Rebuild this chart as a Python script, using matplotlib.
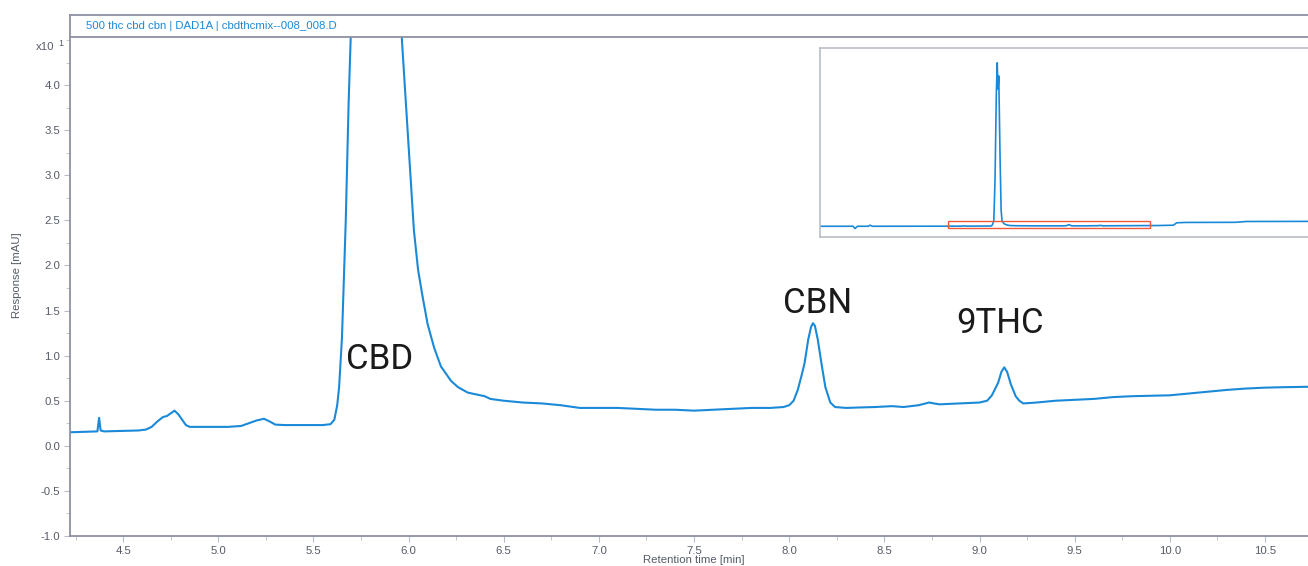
import matplotlib
matplotlib.use("Agg")
import matplotlib.pyplot as plt
from matplotlib.patches import Rectangle
from matplotlib.ticker import MultipleLocator, FixedLocator, FormatStrFormatter

plt.rcParams["font.family"] = ["Liberation Sans", "DejaVu Sans"]

# ---- data (response in x10 mAU) ----
rt_min = [
    0.0, 1.0, 1.15, 1.22, 1.3, 1.65, 1.7, 1.78, 2.5, 3.5, 4.0,
    4.22, 4.30, 4.365, 4.374, 4.382, 4.40, 4.50, 4.58, 4.62, 4.65, 4.68, 4.71, 4.73,
    4.75, 4.77, 4.79, 4.81, 4.83, 4.85, 4.95, 5.05, 5.12, 5.16, 5.20, 5.24, 5.27,
    5.30, 5.35, 5.45, 5.55, 5.59, 5.61, 5.625, 5.635, 5.65, 5.67, 5.685, 5.70,
    5.74, 5.78, 5.81, 5.835, 5.86, 5.90, 5.935, 5.965, 5.995, 6.028, 6.05, 6.074,
    6.10, 6.134, 6.17, 6.223, 6.26, 6.311, 6.40, 6.43, 6.50, 6.60, 6.70, 6.80,
    6.90, 7.00, 7.10, 7.20, 7.30, 7.40, 7.50, 7.60, 7.70, 7.80, 7.90, 7.97, 8.00,
    8.023, 8.045, 8.065, 8.081, 8.10, 8.115, 8.125, 8.135, 8.15, 8.172, 8.19,
    8.216, 8.241, 8.30, 8.366, 8.45, 8.541, 8.60, 8.68, 8.735, 8.76, 8.79, 8.90,
    9.00, 9.04, 9.065, 9.098, 9.115, 9.13, 9.145, 9.165, 9.19, 9.209, 9.23, 9.30,
    9.40, 9.50, 9.60, 9.70, 9.80, 9.90, 10.0, 10.10, 10.20, 10.30, 10.40, 10.50,
    10.60, 10.74,
    11.0, 11.5, 11.6, 11.9, 13.5, 13.85, 16.5,
]
response_x10 = [
    0.1, 0.1, 0.2, -1.8, 0.1, 0.1, 1.0, 0.1, 0.1, 0.1, 0.12,
    0.15, 0.155, 0.16, 0.31, 0.17, 0.16, 0.165, 0.17, 0.18, 0.21, 0.27, 0.32, 0.33,
    0.36, 0.39, 0.35, 0.29, 0.23, 0.21, 0.21, 0.21, 0.22, 0.25, 0.28, 0.30, 0.27,
    0.235, 0.23, 0.23, 0.23, 0.24, 0.29, 0.45, 0.65, 1.2, 2.5, 3.8, 4.8,
    40, 110, 137, 115, 126, 60, 14, 4.5, 3.5, 2.39, 1.95, 1.65,
    1.35, 1.09, 0.88, 0.72, 0.65, 0.59, 0.55, 0.52, 0.50, 0.48, 0.47, 0.45,
    0.42, 0.42, 0.42, 0.41, 0.40, 0.40, 0.39, 0.40, 0.41, 0.42, 0.42, 0.43, 0.45,
    0.50, 0.62, 0.78, 0.92, 1.18, 1.32, 1.36, 1.33, 1.18, 0.88, 0.65,
    0.48, 0.43, 0.42, 0.425, 0.43, 0.44, 0.43, 0.45, 0.48, 0.47, 0.46, 0.47,
    0.48, 0.50, 0.56, 0.70, 0.82, 0.87, 0.82, 0.68, 0.55, 0.50, 0.47, 0.48,
    0.50, 0.51, 0.52, 0.54, 0.55, 0.555, 0.56, 0.58, 0.60, 0.62, 0.635, 0.645,
    0.65, 0.655,
    0.7, 1.0, 3.0, 3.3, 3.4, 4.1, 4.2,
]

peak_names = ["CBD", "CBN", "9THC"]
peak_label_x = [5.672, 7.968, 8.880]
peak_label_y = [0.85, 1.47, 1.25]

y_major_ticks = [-1.0, -0.5, 0.0, 0.5, 1.0, 1.5, 2.0, 2.5, 3.0, 3.5, 4.0]

title_text = "500 thc cbd cbn | DAD1A | cbdthcmix--008_008.D"
x_view = (4.221, 10.742)
y_view = (-1.0, 4.533)

# ---- style ----
W, H = 1308, 566
blue = "#1a8ad8"
spine_c = "#8c91a3"
tick_c = "#555b66"

fig = plt.figure(figsize=(W / 100, H / 100), dpi=100)

def fx(px):
    return px / W

def fy(py):
    return 1 - py / H

# main axes
ax = fig.add_axes([fx(70), fy(536), fx(1308 - 70) + 0.01, fy(37) - fy(536)])
ax.plot(rt_min, response_x10, color=blue, lw=1.5, solid_joinstyle="round")
ax.set_xlim(x_view[0], x_view[1] + (10 / 189.8))
ax.set_ylim(*y_view)
ax.xaxis.set_major_locator(MultipleLocator(0.5))
ax.xaxis.set_minor_locator(MultipleLocator(0.25))
ax.yaxis.set_major_locator(FixedLocator(y_major_ticks))
ax.yaxis.set_minor_locator(MultipleLocator(0.25))
ax.xaxis.set_major_formatter(FormatStrFormatter("%.1f"))
ax.yaxis.set_major_formatter(FormatStrFormatter("%.1f"))
ax.spines["right"].set_visible(False)
for s in ["left", "bottom", "top"]:
    ax.spines[s].set_color(spine_c)
    ax.spines[s].set_linewidth(1.3)
ax.tick_params(axis="both", which="both", colors="#b8bcc6", labelcolor=tick_c,
               labelsize=8.2, direction="out")
ax.tick_params(axis="both", which="major", length=4, width=0.8, pad=3)
ax.tick_params(axis="both", which="minor", length=3, width=0.6)

for name, lx, ly in zip(peak_names, peak_label_x, peak_label_y):
    ax.text(lx, ly, name, fontsize=25, family="Roboto", fontweight="normal",
            color="#1a1a1a", ha="left", va="baseline")

# header band
hx = fig.add_axes([fx(70), fy(37), fx(1308 - 70) + 0.01, fy(15) - fy(37)])
hx.set_xticks([])
hx.set_yticks([])
for s in ["right", "bottom"]:
    hx.spines[s].set_visible(False)
for s in ["left", "top"]:
    hx.spines[s].set_color(spine_c)
    hx.spines[s].set_linewidth(1.3)
hx.patch.set_alpha(0)
fig.text(fx(86), fy(26), title_text, color=blue, fontsize=8.2, ha="left", va="center")

# multiplier label
fig.text(fx(54), fy(47), "x10", color=tick_c, fontsize=8.2, ha="right", va="center")
fig.text(fx(58), fy(43), "1", color=tick_c, fontsize=6.5, ha="left", va="center")

# axis labels
fig.text(fx(17), fy(275), "Response [mAU]", rotation=90, color=tick_c,
         fontsize=8.2, ha="center", va="center")
fig.text(fx(694), fy(560), "Retention time [min]", color=tick_c,
         fontsize=8.2, ha="center", va="center")

# inset overview
inset_px_per_min = 30.98
ix = fig.add_axes([fx(820), fy(237), fx(520), fy(48) - fy(237)])
ix.plot(rt_min, response_x10, color=blue, lw=1.2)
ix.set_xlim(x_view[0] - (948 - 820) / inset_px_per_min,
            x_view[0] + (1340 - 948) / inset_px_per_min)
ix.set_ylim(-8.9, 149.4)
ix.set_xticks([])
ix.set_yticks([])
for s in ix.spines.values():
    s.set_color("#b9bdc6")
    s.set_linewidth(1.2)
ix.add_patch(Rectangle((x_view[0], y_view[0]), x_view[1] - x_view[0],
                       y_view[1] - y_view[0], fill=False, edgecolor="#f0583c",
                       lw=1.0, zorder=5))

fig.savefig("out.png", dpi=100)
